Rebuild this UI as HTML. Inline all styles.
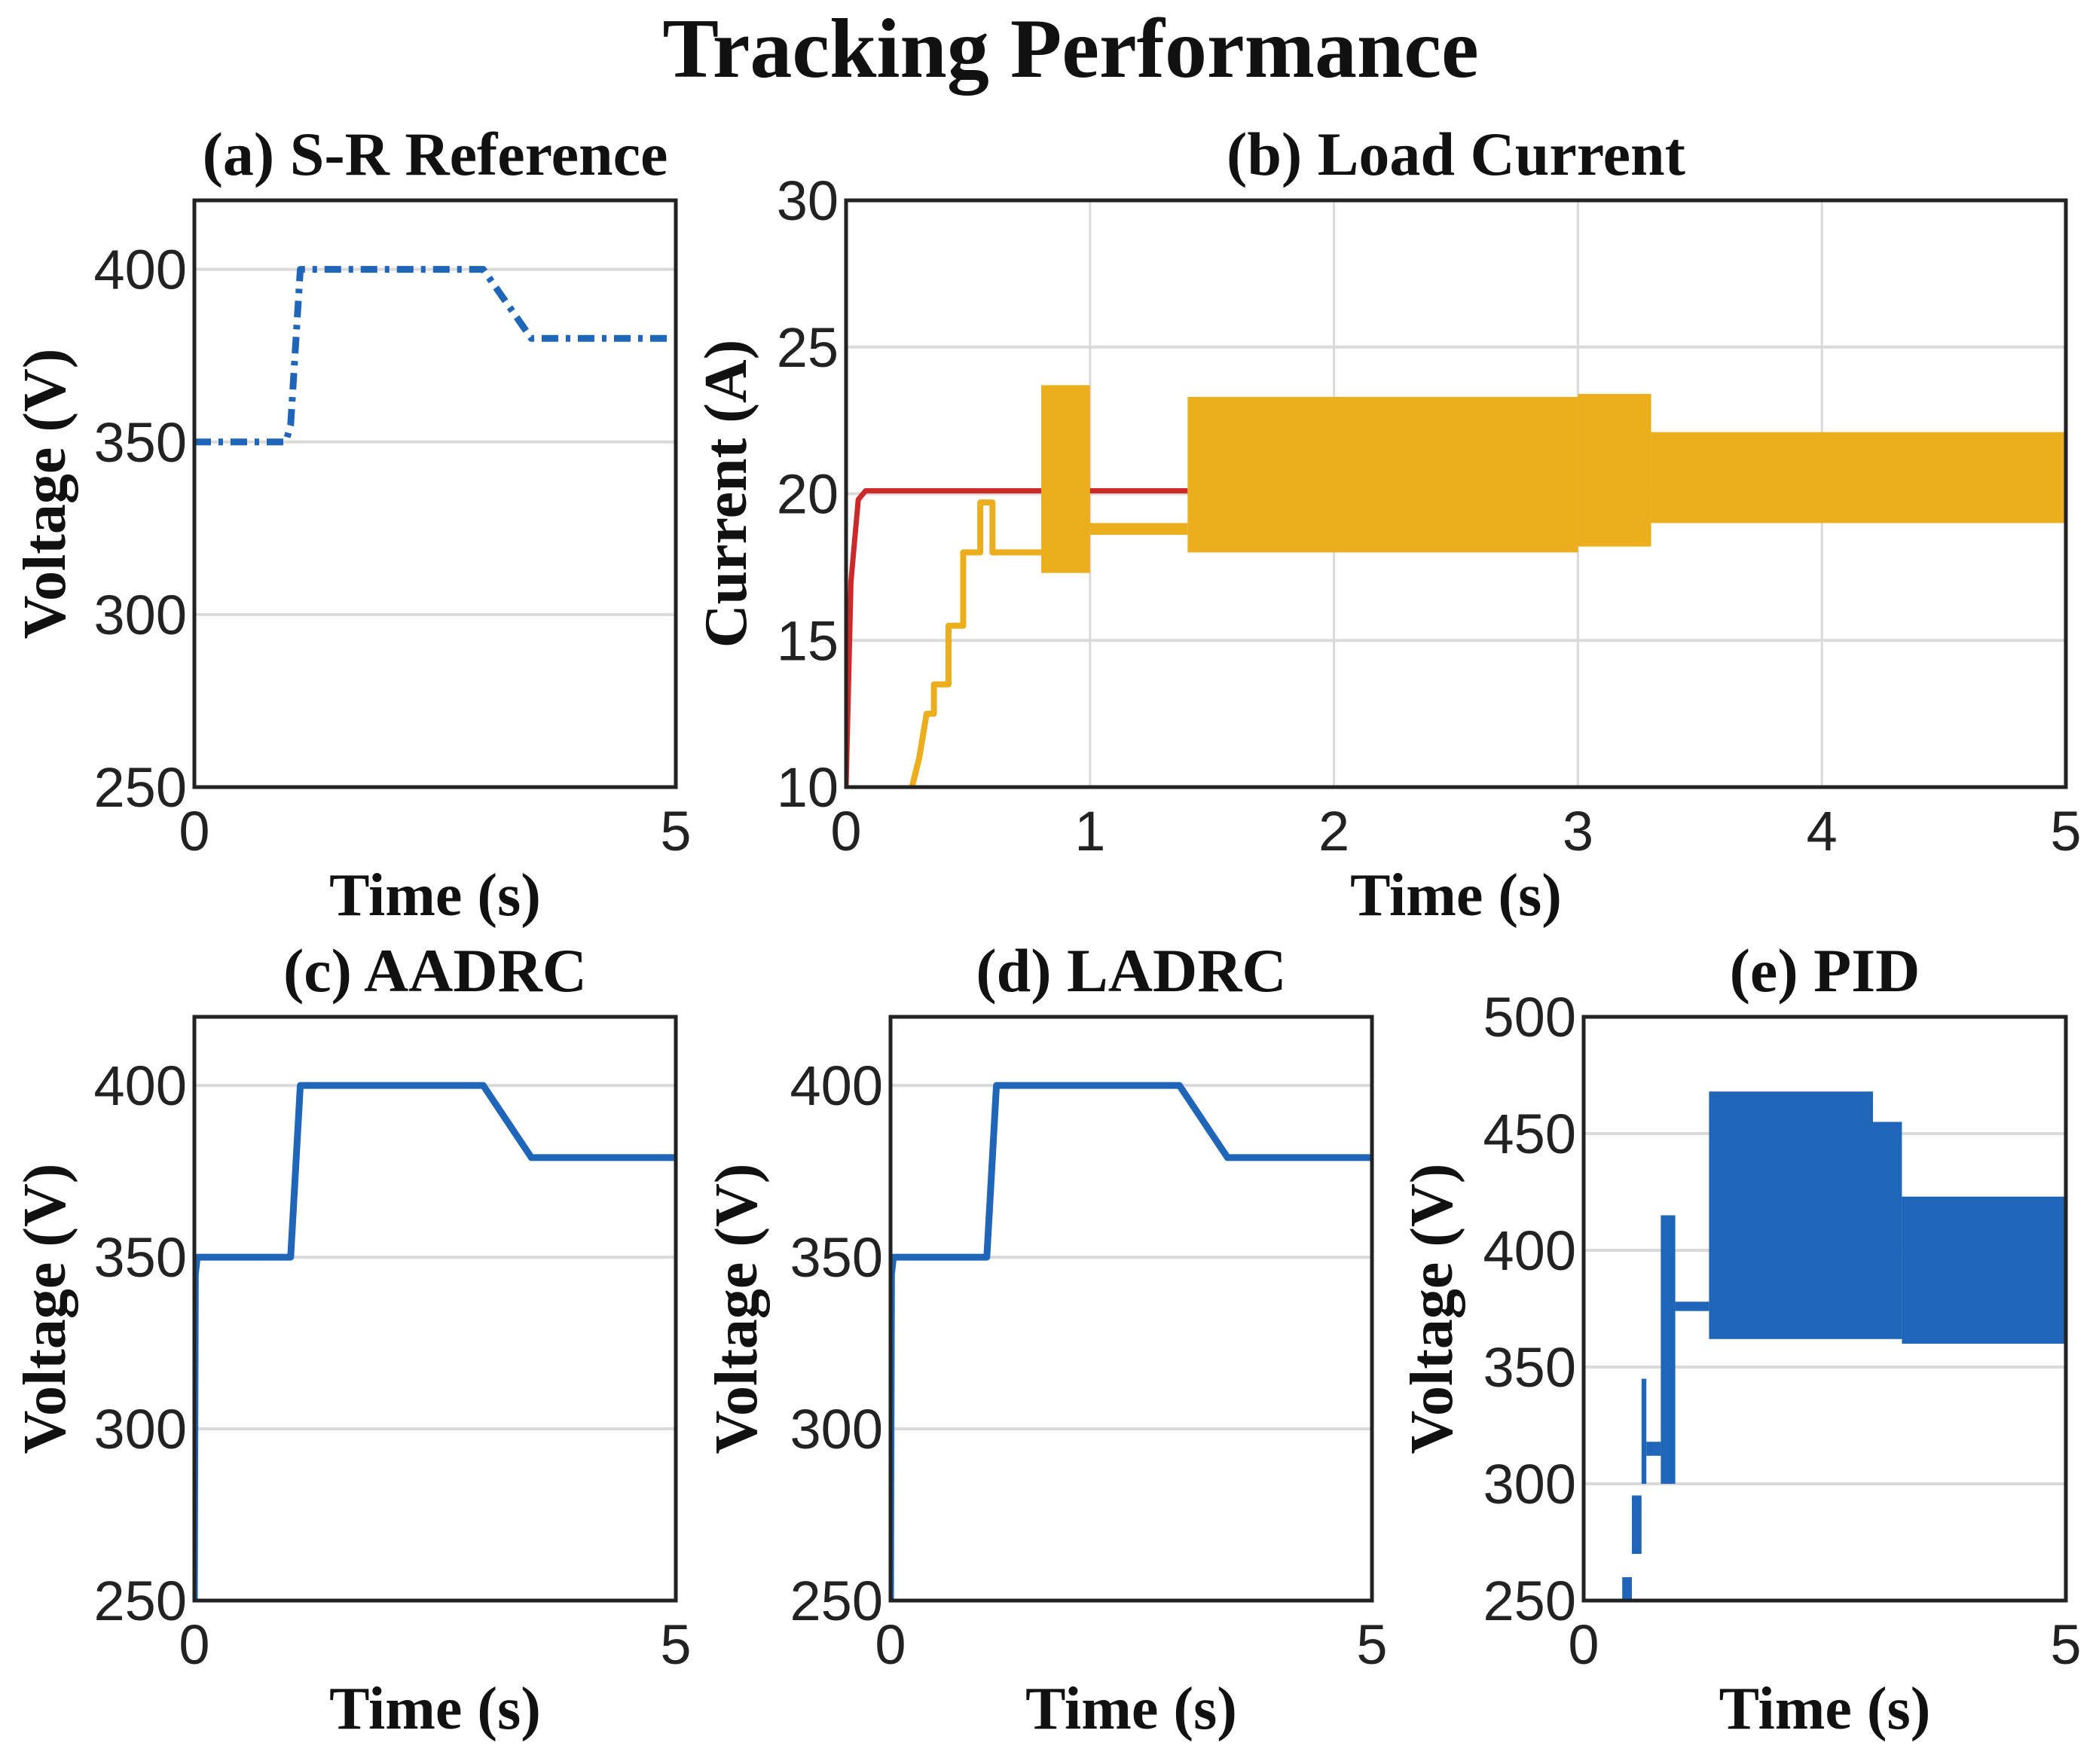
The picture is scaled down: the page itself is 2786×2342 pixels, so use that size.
<!DOCTYPE html>
<html><head><meta charset="utf-8"><style>
body{margin:0;background:#fff}
svg{display:block}
.tk{font-family:"Liberation Sans",sans-serif;font-size:74px;fill:#222}
.ttl{font-family:"Liberation Serif",serif;font-weight:bold;fill:#111}
</style></head><body>
<svg id="fig" width="2786" height="2342" viewBox="0 0 2786 2342" xmlns="http://www.w3.org/2000/svg">
<text class="ttl" x="1421" y="102" font-size="112" text-anchor="middle">Tracking Performance</text>
</svg>
<script>
// ---- data ----
const refT = [0, 0.95, 1.0, 1.1, 3.0, 3.5, 5];
const refV = [350, 350, 355, 400, 400, 380, 380];
const aadrcT = [0, 0.01, 0.03, 1.0, 1.1, 3.0, 3.5, 5];
const aadrcV = [250, 345, 350, 350, 400, 400, 379, 379];
const ladrcT = [0, 0.01, 0.03, 1.0, 1.1, 3.0, 3.5, 5];
const ladrcV = [250, 345, 350, 350, 400, 400, 379, 379];
const redT = [0, 0.02, 0.05, 0.08, 1.4];
const redI = [10, 17, 19.8, 20.1, 20.1];
const orangeT = [0.27, 0.3, 0.33, 0.36, 0.36, 0.42, 0.42, 0.48, 0.48, 0.55, 0.55, 0.6, 0.6, 0.8];
const orangeI = [10, 11, 12.5, 12.5, 13.5, 13.5, 15.5, 15.5, 18, 18, 19.7, 19.7, 18, 18];
const orangeBandStart = [0.8, 1.0, 1.4, 3.0, 3.3];
const orangeBandEnd = [1.0, 1.4, 3.0, 3.3, 5.0];
const orangeBandLow = [17.3, 18.6, 18.0, 18.2, 19.0];
const orangeBandHigh = [23.7, 19.0, 23.3, 23.4, 22.1];
const pidBandStart = [0.4, 0.5, 0.6, 0.65, 0.8, 0.95, 1.3, 3.0, 3.3];
const pidBandEnd = [0.5, 0.6, 0.65, 0.8, 0.95, 1.3, 3.0, 3.3, 5.0];
const pidBandLow = [250, 270, 300, 312, 300, 374, 362, 362, 360];
const pidBandHigh = [260, 295, 345, 318, 415, 378, 468, 455, 423];
const ticksVolt = [250, 300, 350, 400];
const ticksPID = [250, 300, 350, 400, 450, 500];
const ticksCur = [10, 15, 20, 25, 30];
const ticksTimeFull = [0, 1, 2, 3, 4, 5];
const ticksTimeEnds = [0, 5];

const NS = "http://www.w3.org/2000/svg";
const svg = document.getElementById('fig');
function mk(tag, attrs, parent) {
  const e = document.createElementNS(NS, tag);
  for (const k in attrs) e.setAttribute(k, attrs[k]);
  (parent || svg).appendChild(e);
  return e;
}
function panel(p) {
  const g = mk('g', {});
  
  
  const sx = v => p.x0 + (v - p.xmin) / (p.xmax - p.xmin) * (p.x1 - p.x0);
  const sy = v => p.y1 - (v - p.ymin) / (p.ymax - p.ymin) * (p.y1 - p.y0);
  p.yt.forEach(v => {
    const l = mk('line', {x1: p.x0, x2: p.x1, y1: sy(v), y2: sy(v), stroke: '#dadada', 'stroke-width': 4}, g);
    
    
    const t = mk('text', {x: p.x0 - 10, y: sy(v) + 26, 'text-anchor': 'end', class: 'tk'}, g);
    
    
    t.textContent = v;
  });
  p.xt.forEach(v => {
    if (p.xgrid) {
      const l = mk('line', {x1: sx(v), x2: sx(v), y1: p.y0, y2: p.y1, stroke: '#dadada', 'stroke-width': 3}, g);
      
      
    }
    const t = mk('text', {x: sx(v), y: p.y1 + 84, 'text-anchor': 'middle', class: 'tk'}, g);
    
    
    t.textContent = v;
  });
  const clip = mk('clipPath', {id: 'c' + p.name}, g);
  mk('rect', {x: p.x0, y: p.y0, width: p.x1 - p.x0, height: p.y1 - p.y0}, clip);
  const dg = mk('g', {'clip-path': 'url(#c' + p.name + ')'}, g);
  p.draw(dg, sx, sy);
  const f = mk('rect', {x: p.x0, y: p.y0, width: p.x1 - p.x0, height: p.y1 - p.y0, fill: 'none', stroke: '#222', 'stroke-width': 5}, g);
  
  
  const tt = mk('text', {x: (p.x0 + p.x1) / 2, y: p.y0 - 34, 'text-anchor': 'middle', class: 'ttl', 'font-size': 82}, g);
  
  
  tt.textContent = p.title;
  const xl = mk('text', {x: (p.x0 + p.x1) / 2, y: p.y1 + 170, 'text-anchor': 'middle', class: 'ttl', 'font-size': 80}, g);
  
  
  xl.textContent = 'Time (s)';
  const yc = (p.y0 + p.y1) / 2;
  const yl = mk('text', {x: p.ylx, y: yc, 'text-anchor': 'middle', class: 'ttl', 'font-size': 80, transform: 'rotate(-90 ' + p.ylx + ' ' + yc + ')'}, g);
  
  
  yl.textContent = p.ylabel;
}
function line(g, T, V, sx, sy, color, w, dash, name) {
  const pts = T.map((t, i) => sx(t) + ',' + sy(V[i])).join(' ');
  const e = mk('polyline', {points: pts, fill: 'none', stroke: color, 'stroke-width': w, 'stroke-linejoin': 'round'}, g);
  if (dash) e.setAttribute('stroke-dasharray', dash);
  
  
}
function bands(g, S, E, L, H, sx, sy, color, name) {
  S.forEach((s, i) => {
    const r = mk('rect', {x: sx(s), y: sy(H[i]), width: Math.max(4, sx(E[i]) - sx(s)), height: Math.max(5, sy(L[i]) - sy(H[i])), fill: color}, g);
    
    
  });
}
const BLUE = '#1f66b8', ORANGE = '#edae1e', RED = '#cc2a2a';
panel({name: 'panel-a-sr-reference', title: '(a) S-R Reference', ylabel: 'Voltage (V)', ylx: 86,
  x0: 258, x1: 897, y0: 266, y1: 1045, xmin: 0, xmax: 5, ymin: 250, ymax: 420, yt: ticksVolt, xt: ticksTimeEnds,
  draw: (g, sx, sy) => { line(g, refT, refV, sx, sy, BLUE, 9, '22 10 6 10', 'reference-voltage-line'); }});
panel({name: 'panel-b-load-current', title: '(b) Load Current', ylabel: 'Current (A)', ylx: 990,
  x0: 1123, x1: 2742, y0: 266, y1: 1045, xmin: 0, xmax: 5, ymin: 10, ymax: 30, yt: ticksCur, xt: ticksTimeFull, xgrid: true,
  draw: (g, sx, sy) => {
    line(g, redT, redI, sx, sy, RED, 7, null, 'reference-current-line');
    line(g, orangeT, orangeI, sx, sy, ORANGE, 8, null, 'load-current-line');
    bands(g, orangeBandStart, orangeBandEnd, orangeBandLow, orangeBandHigh, sx, sy, ORANGE, 'load-current-band');
  }});
panel({name: 'panel-c-aadrc', title: '(c) AADRC', ylabel: 'Voltage (V)', ylx: 86,
  x0: 258, x1: 897, y0: 1350, y1: 2125, xmin: 0, xmax: 5, ymin: 250, ymax: 420, yt: ticksVolt, xt: ticksTimeEnds,
  draw: (g, sx, sy) => { line(g, aadrcT, aadrcV, sx, sy, BLUE, 9, null, 'aadrc-voltage-line'); }});
panel({name: 'panel-d-ladrc', title: '(d) LADRC', ylabel: 'Voltage (V)', ylx: 1004,
  x0: 1182, x1: 1821, y0: 1350, y1: 2125, xmin: 0, xmax: 5, ymin: 250, ymax: 420, yt: ticksVolt, xt: ticksTimeEnds,
  draw: (g, sx, sy) => { line(g, ladrcT, ladrcV, sx, sy, BLUE, 9, null, 'ladrc-voltage-line'); }});
panel({name: 'panel-e-pid', title: '(e) PID', ylabel: 'Voltage (V)', ylx: 1927,
  x0: 2102, x1: 2742, y0: 1350, y1: 2125, xmin: 0, xmax: 5, ymin: 250, ymax: 500, yt: ticksPID, xt: ticksTimeEnds,
  draw: (g, sx, sy) => { bands(g, pidBandStart, pidBandEnd, pidBandLow, pidBandHigh, sx, sy, BLUE, 'pid-voltage-band'); }});
</script>
</body></html>
